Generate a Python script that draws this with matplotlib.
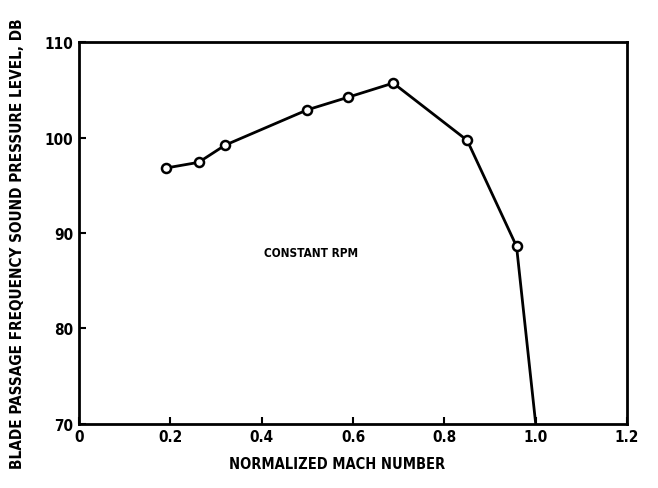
import matplotlib
matplotlib.use("Agg")
import matplotlib.pyplot as plt

# values
mach = [0.19, 0.262, 0.32, 0.50, 0.588, 0.688, 0.85, 0.958, 1.0]
spl = [96.8, 97.4, 99.2, 102.9, 104.2, 105.7, 99.7, 88.6, 70.0]
x_ticks = [0, 0.2, 0.4, 0.6, 0.8, 1.0, 1.2]
x_labels = ["0", "0.2", "0.4", "0.6", "0.8", "1.0", "1.2"]
y_ticks = [70, 80, 90, 100, 110]

plt.rcParams['font.family'] = ['DejaVu Sans']
plt.rcParams['font.stretch'] = 'condensed'
plt.rcParams['font.weight'] = 'bold'
plt.rcParams['axes.labelweight'] = 'bold'

fig = plt.figure(figsize=(6.58, 4.89), dpi=100)
ax = fig.add_axes([0.12, 0.131, 0.833, 0.781])

# line through all points, circles on the measured ones only
ax.plot(mach, spl, color='black', lw=2.0, zorder=2)
ax.plot(mach[:-1], spl[:-1], ls='none', marker='o', ms=6.5, mfc='white',
        mec='black', mew=1.8, zorder=3)

ax.text(0.405, 88.0, "CONSTANT RPM", fontsize=8.5, ha='left', va='center')

ax.set_xlim(0, 1.2)
ax.set_ylim(70, 110)
ax.set_xticks(x_ticks)
ax.set_xticklabels(x_labels)
ax.set_yticks(y_ticks)
ax.tick_params(direction='in', length=5, width=1.5, labelsize=11, pad=4)
for s in ax.spines.values():
    s.set_linewidth(2.0)

ax.set_xlabel("NORMALIZED MACH NUMBER", fontsize=10.5)
ax.xaxis.set_label_coords(0.47, -0.085)
ax.set_ylabel("BLADE PASSAGE FREQUENCY SOUND PRESSURE LEVEL, DB", fontsize=11)
ax.yaxis.set_label_coords(-0.099, 0.475)

fig.savefig("out.png", dpi=100)
